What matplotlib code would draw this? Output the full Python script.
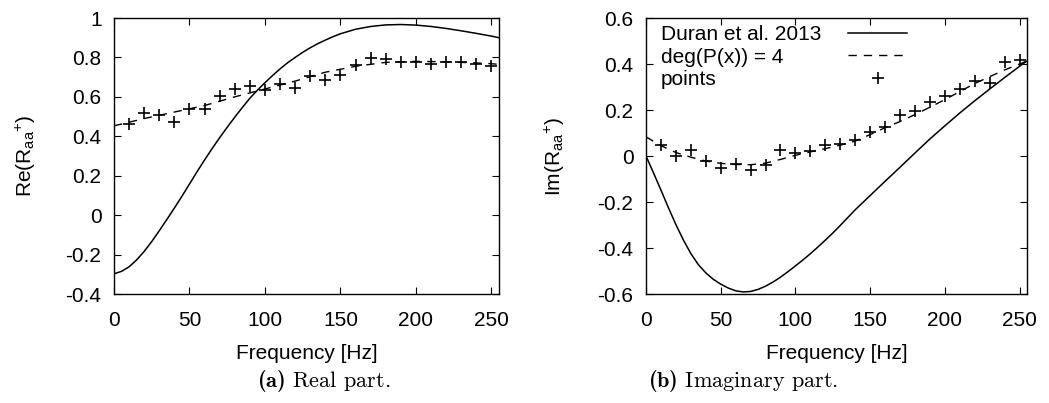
import numpy as np
import matplotlib
matplotlib.use("Agg")
import matplotlib.pyplot as plt
from matplotlib.ticker import FuncFormatter

plt.rcParams['font.family'] = ['Liberation Sans', 'DejaVu Sans']
plt.rcParams['mathtext.fontset'] = 'custom'
plt.rcParams['mathtext.rm'] = 'Liberation Sans'
plt.rcParams['mathtext.it'] = 'Liberation Sans:italic'
plt.rcParams['mathtext.bf'] = 'cmb10'

# ---- data ----
freq_pts = [10, 20, 30, 40, 50, 60, 70, 80, 90, 100, 110, 120, 130, 140, 150,
            160, 170, 180, 190, 200, 210, 220, 230, 240, 250]
re_pts = [0.463, 0.518, 0.506, 0.472, 0.538, 0.538, 0.602, 0.641, 0.653, 0.633,
          0.665, 0.644, 0.707, 0.683, 0.712, 0.760, 0.797, 0.792, 0.778, 0.775,
          0.766, 0.775, 0.775, 0.768, 0.755]
im_pts = [0.046, -0.002, 0.024, -0.021, -0.053, -0.036, -0.060, -0.038, 0.027, 0.015,
          0.023, 0.046, 0.052, 0.070, 0.104, 0.128, 0.179, 0.194, 0.234, 0.263,
          0.291, 0.324, 0.317, 0.407, 0.419]

freq_re_duran = [0, 5, 10, 15, 20, 25, 30, 35, 40, 45, 50, 55, 60, 65, 70, 75, 80, 85,
                 90, 95, 100, 105, 110, 115, 120, 125, 130, 135, 140, 145, 150, 160,
                 170, 180, 190, 200, 210, 220, 230, 240, 250, 255]
re_duran = [-0.298, -0.285, -0.262, -0.227, -0.184, -0.134, -0.079, -0.022, 0.036,
            0.096, 0.158, 0.220, 0.280, 0.338, 0.393, 0.446, 0.497, 0.546, 0.593,
            0.634, 0.672, 0.708, 0.742, 0.773, 0.800, 0.826, 0.849, 0.870, 0.888,
            0.905, 0.920, 0.943, 0.957, 0.965, 0.967, 0.964, 0.957, 0.947, 0.935,
            0.922, 0.908, 0.900]

freq_re_fit = [0, 20, 40, 60, 80, 100, 120, 140, 160, 180, 200, 220, 240, 250, 255]
re_fit = [0.453, 0.490, 0.523, 0.556, 0.600, 0.640, 0.680, 0.725, 0.755, 0.775,
          0.780, 0.778, 0.772, 0.768, 0.765]

freq_im_duran = [0, 5, 10, 15, 20, 25, 30, 35, 40, 45, 50, 55, 60, 65, 70, 75, 80, 85,
                 90, 95, 100, 105, 110, 115, 120, 125, 130, 135, 140, 150, 160, 170,
                 180, 190, 200, 210, 220, 230, 240, 250, 255]
im_duran = [0.0, -0.073, -0.148, -0.225, -0.298, -0.365, -0.424, -0.472, -0.508,
            -0.536, -0.557, -0.574, -0.586, -0.591, -0.589, -0.580, -0.566, -0.548,
            -0.527, -0.503, -0.478, -0.452, -0.425, -0.396, -0.366, -0.335, -0.302,
            -0.268, -0.234, -0.172, -0.110, -0.049, 0.013, 0.074, 0.131, 0.187,
            0.240, 0.291, 0.341, 0.390, 0.413]

freq_im_fit = [0, 10, 20, 30, 40, 50, 60, 70, 80, 90, 100, 110, 120, 130, 140, 150, 160,
               170, 180, 190, 200, 210, 220, 230, 240, 250, 255]
im_fit = [0.083, 0.045, 0.015, -0.005, -0.022, -0.032, -0.037, -0.038, -0.031, -0.015,
          0.003, 0.018, 0.032, 0.047, 0.065, 0.093, 0.123, 0.150, 0.180, 0.212, 0.245,
          0.280, 0.315, 0.345, 0.374, 0.400, 0.413]

xticks = [0, 50, 100, 150, 200, 250]
re_yticks = [-0.4, -0.2, 0, 0.2, 0.4, 0.6, 0.8, 1]
im_yticks = [-0.6, -0.4, -0.2, 0, 0.2, 0.4, 0.6]
legend_labels = ['Duran et al. 2013', 'deg(P(x)) = 4', 'points']

W, H = 1049, 403
fig = plt.figure(figsize=(W / 100, H / 100), dpi=100)

FS = 15


def fmt(v, pos):
    return '%g' % round(v, 6)


def style(ax, yticks, ylim):
    ax.set_xlim(0, 255)
    ax.set_ylim(*ylim)
    ax.set_xticks(xticks)
    ax.set_yticks(yticks)
    ax.yaxis.set_major_formatter(FuncFormatter(fmt))
    ax.tick_params(direction='in', top=True, right=True, length=5, width=0.8,
                   labelsize=FS)
    ax.tick_params(axis='y', pad=9)
    ax.tick_params(axis='x', pad=12)
    for s in ax.spines.values():
        s.set_linewidth(1.0)
    ax.set_xlabel('Frequency [Hz]', fontsize=FS, labelpad=10)


DASH = (6, 5)

ax1 = fig.add_axes([114 / W, (H - 294) / H, 385 / W, 276 / H])
ax1.plot(freq_re_duran, re_duran, color='black', lw=1.1)
ax1.plot(freq_re_fit, re_fit, color='black', lw=1.0, dashes=DASH)
ax1.plot(freq_pts, re_pts, linestyle='none', marker='+', color='black', ms=9, mew=1.2)
style(ax1, re_yticks, (-0.4, 1.0))
ax1.set_ylabel(r'Re(R$_{\mathrm{aa}}$$^{+}$)', fontsize=FS)
ax1.yaxis.set_label_coords((38 - 114) / 385, 0.5)

ax2 = fig.add_axes([646 / W, (H - 294) / H, 381 / W, 276 / H])
l1, = ax2.plot(freq_im_duran, im_duran, color='black', lw=1.1)
l2, = ax2.plot(freq_im_fit, im_fit, color='black', lw=1.0, dashes=DASH)
l3, = ax2.plot(freq_pts, im_pts, linestyle='none', marker='+', color='black', ms=9, mew=1.2)
style(ax2, im_yticks, (-0.6, 0.6))
ax2.set_ylabel(r'Im(R$_{\mathrm{aa}}$$^{+}$)', fontsize=FS)
ax2.yaxis.set_label_coords((567 - 646) / 381, 0.5)

leg = ax2.legend([l1, l2, l3], legend_labels, loc='upper left',
                 bbox_to_anchor=((661 - 646) / 381, 1 - 7 / 276),
                 frameon=False, markerfirst=False, fontsize=FS,
                 handlelength=2.8, handletextpad=1.3, labelspacing=0.17,
                 borderaxespad=0.0, borderpad=0.0)

fig.text(324 / W, 1 - 381 / H, r'$\mathbf{(a)}$ Real part.', family='cmr10',
         fontsize=16, ha='center', va='center')
fig.text(743 / W, 1 - 381 / H, r'$\mathbf{(b)}$ Imaginary part.', family='cmr10',
         fontsize=16, ha='center', va='center')

# left-align legend labels while keeping samples aligned on the right
fig.canvas.draw()
r = fig.canvas.get_renderer()
widths = [t.get_window_extent(r).width for t in leg.get_texts()]
maxw = max(widths)
p2px = r.points_to_pixels(1.0)
col = leg._legend_handle_box.get_children()[0]
for row, w in zip(col.get_children(), widths):
    row.sep = row.sep + (maxw - w) / p2px

fig.savefig('out.png', dpi=100)
